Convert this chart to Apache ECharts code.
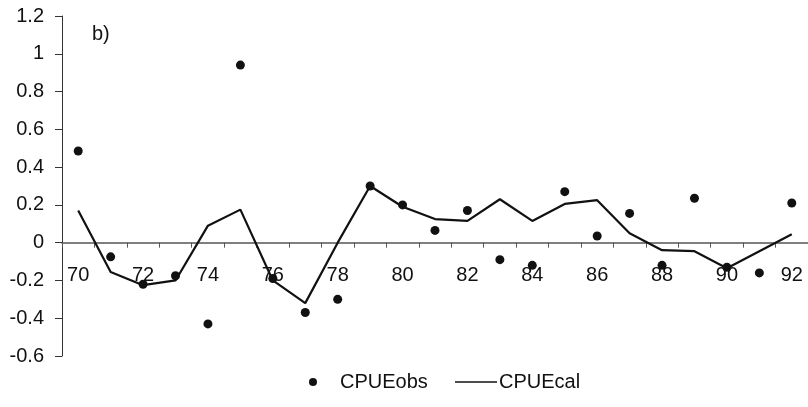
<!DOCTYPE html>
<html>
<head>
<meta charset="utf-8">
<script src="https://cdn.jsdelivr.net/npm/echarts@6/dist/echarts.min.js"></script>
<style>
  html, body { margin: 0; padding: 0; background: #fff; }
  #chart { width: 808px; height: 407px; }
</style>
</head>
<body>
<div id="chart"></div>
<script>
// Seasons (two-digit years)
const years = ['70','71','72','73','74','75','76','77','78','79','80','81',
               '82','83','84','85','86','87','88','89','90','91','92'];

// Observed CPU anomalies
const cpueObs = [0.485, -0.075, -0.22, -0.175, -0.43, 0.94, -0.19, -0.37, -0.30,
                 0.30, 0.20, 0.065, 0.17, -0.09, -0.12, 0.27, 0.035, 0.155,
                 -0.12, 0.235, -0.13, -0.16, 0.21];

// Calculated CPU anomalies
const cpueCal = [0.17, -0.155, -0.225, -0.20, 0.09, 0.175, -0.20, -0.32, 0.0,
                 0.30, 0.19, 0.125, 0.115, 0.23, 0.115, 0.205, 0.225, 0.05,
                 -0.04, -0.045, -0.135, -0.045, 0.045];

const yTicks = { min: -0.6, max: 1.2, step: 0.2 };

const FONT = 'Liberation Sans, Arial, sans-serif';
const FS = 20;
const GRID = { left: 62, right: 0, top: 16, bottom: 51 };
const PLOT_H = 407 - GRID.top - GRID.bottom;

// the category axis sits on the zero line of the value axis
const zeroOffset = -PLOT_H * (0 - yTicks.min) / (yTicks.max - yTicks.min);

const chart = echarts.init(document.getElementById('chart'));
chart.setOption({
  animation: false,
  backgroundColor: '#fff',
  grid: Object.assign({ containLabel: false }, GRID),
  xAxis: {
    type: 'category',
    data: years,
    boundaryGap: true,
    position: 'bottom',
    offset: zeroOffset,
    axisLine: { onZero: false, lineStyle: { color: '#555', width: 1.5 } },
    axisTick: { show: true, length: 5, inside: false, interval: 0,
                lineStyle: { color: '#555', width: 1 } },
    axisLabel: { interval: 1, margin: 23, color: '#111', fontSize: FS, fontFamily: FONT },
    splitLine: { show: false }
  },
  yAxis: {
    type: 'value',
    min: yTicks.min,
    max: yTicks.max,
    interval: yTicks.step,
    axisLine: { show: true, onZero: false, lineStyle: { color: '#333', width: 1 } },
    axisTick: { show: true, length: 7, lineStyle: { color: '#333', width: 1 } },
    axisLabel: {
      margin: 18, color: '#111', fontSize: FS, fontFamily: FONT,
      formatter: v => String(Math.round(v * 10) / 10)
    },
    splitLine: { show: false }
  },
  legend: [
    {
      data: [{ name: 'CPUEobs', icon: 'circle' }],
      left: 309, top: 372,
      itemWidth: 8, itemHeight: 8, itemGap: 0,
      itemStyle: { color: '#111', opacity: 1 },
      textStyle: { fontSize: FS, fontFamily: FONT, color: '#111', padding: [0, 0, 0, 18] },
      padding: 0
    },
    {
      data: [{ name: 'CPUEcal', icon: 'rect' }],
      left: 455, top: 372,
      itemWidth: 42, itemHeight: 1.5, itemGap: 0,
      itemStyle: { color: '#111' },
      textStyle: { fontSize: FS, fontFamily: FONT, color: '#111', padding: [0, 0, 0, -3] },
      padding: 0
    }
  ],
  graphic: [
    {
      type: 'text', left: 92, top: 24,
      style: { text: 'b)', fontSize: FS, fontFamily: FONT, fill: '#111' }
    }
  ],
  series: [
    {
      name: 'CPUEcal',
      type: 'line',
      data: cpueCal,
      showSymbol: false,
      symbol: 'none',
      lineStyle: { color: '#111', width: 2.2 },
      itemStyle: { color: '#111' },
      z: 2
    },
    {
      name: 'CPUEobs',
      type: 'scatter',
      data: cpueObs,
      symbol: 'circle',
      symbolSize: 9,
      itemStyle: { color: '#111', opacity: 1 },
      z: 3
    }
  ]
});
</script>
</body>
</html>
